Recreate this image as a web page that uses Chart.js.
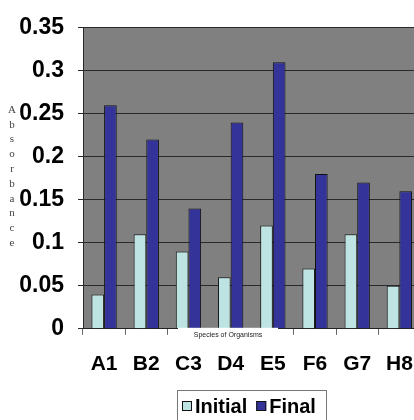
<!DOCTYPE html>
<html>
<head>
<meta charset="utf-8">
<script src="https://cdn.jsdelivr.net/npm/chart.js@4.4.1/dist/chart.umd.min.js"></script>
<style>
  html, body { margin: 0; padding: 0; background: #fff; overflow: hidden; }
  #wrap { width: 430px; height: 420px; }
</style>
</head>
<body>
<div id="wrap"><canvas id="chart1"></canvas></div>
<script>
var xValues = ["A1", "B2", "C3", "D4", "E5", "F6", "G7", "H8"];
var initialValues = [0.04, 0.11, 0.09, 0.06, 0.12, 0.07, 0.11, 0.05];
var finalValues = [0.26, 0.22, 0.14, 0.24, 0.31, 0.18, 0.17, 0.16];
var seriesNames = ["Initial", "Final"];
var seriesColors = ["#BDE3E3", "#333399"];
var yTitle = "Absorbance";
var xTitle = "Species of Organisms";

var narrow = "'Liberation Sans Narrow', 'Arial Narrow', Arial, sans-serif";

// grey plot background
var plotBg = {
  id: 'plotBg',
  beforeDraw: function (chart) {
    var a = chart.chartArea, ctx = chart.ctx;
    ctx.save();
    ctx.fillStyle = '#808080';
    ctx.fillRect(a.left, a.top, a.right - a.left, a.bottom - a.top);
    ctx.restore();
  }
};

// axis titles + legend drawn by hand (stacked letters, offset legend)
var extras = {
  id: 'extras',
  afterDraw: function (chart) {
    var ctx = chart.ctx, a = chart.chartArea;
    ctx.save();
    // y title, one letter per line
    ctx.font = "11px 'Liberation Serif', serif";
    ctx.fillStyle = '#444';
    ctx.textAlign = 'center';
    ctx.textBaseline = 'middle';
    for (var i = 0; i < yTitle.length; i++) {
      ctx.fillText(yTitle[i], 12, 110 + i * 14.8);
    }
    // x title on a white box
    ctx.fillStyle = '#fff';
    ctx.fillRect(178, a.bottom - 1, 100, 11);
    ctx.fillStyle = '#222';
    ctx.font = "7px 'Liberation Sans', Arial, sans-serif";
    ctx.fillText(xTitle, 228, a.bottom + 6);
    // legend
    ctx.strokeStyle = '#777';
    ctx.lineWidth = 1;
    ctx.strokeRect(177.5, 390.5, 149, 40);
    ctx.font = "bold 20px " + narrow;
    ctx.textAlign = 'left';
    var x = 182;
    for (var s = 0; s < seriesNames.length; s++) {
      ctx.fillStyle = seriesColors[s];
      ctx.fillRect(x, 401, 10, 10);
      ctx.strokeStyle = '#111';
      ctx.strokeRect(x + 0.5, 401.5, 9, 9);
      ctx.fillStyle = '#000';
      ctx.fillText(seriesNames[s], x + 13, 407);
      x += 13 + ctx.measureText(seriesNames[s]).width + 9;
    }
    ctx.restore();
  }
};

new Chart("chart1", {
  type: "bar",
  data: {
    labels: xValues,
    datasets: [{
      label: seriesNames[0],
      backgroundColor: seriesColors[0],
      borderColor: '#1a1a1a',
      borderWidth: 1,
      data: initialValues
    },
    {
      label: seriesNames[1],
      backgroundColor: seriesColors[1],
      borderColor: '#111',
      borderWidth: 1,
      data: finalValues
    }]
  },
  options: {
    responsive: true,
    maintainAspectRatio: false,
    animation: false,
    layout: { padding: { left: 0, right: 3, top: 15, bottom: 26 } },
    datasets: { bar: { categoryPercentage: 0.6, barPercentage: 1 } },
    plugins: {
      legend: { display: false },
      tooltip: { enabled: false }
    },
    scales: {
      y: {
        min: 0,
        max: 0.35,
        afterFit: function (scale) { scale.width = 83; },
        ticks: {
          stepSize: 0.05,
          color: '#000',
          padding: 14,
          font: { family: narrow, size: 23, weight: 'bold' },
          callback: function (v) { return +v.toFixed(2); }
        },
        grid: { color: '#2a2a2a', tickLength: 5, lineWidth: 1 },
        border: { color: '#2a2a2a' }
      },
      x: {
        ticks: {
          color: '#000',
          padding: 17,
          font: { family: narrow, size: 21, weight: 'bold' }
        },
        grid: { drawOnChartArea: false, tickLength: 6, color: '#666' },
        border: { color: '#222' }
      }
    }
  },
  plugins: [plotBg, extras]
});
</script>
</body>
</html>
